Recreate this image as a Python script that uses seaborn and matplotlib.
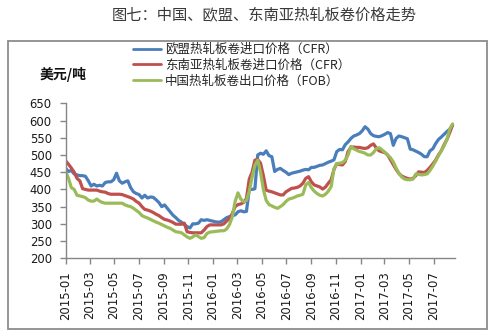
import numpy as np
import pandas as pd
import matplotlib
matplotlib.use("Agg")
import matplotlib.pyplot as plt
import matplotlib.dates as mdates
from matplotlib.patches import Rectangle
from matplotlib.lines import Line2D
import seaborn as sns

# Weekly price quotes (USD/ton), first week starting 2015-01-01
start_date = "2015-01-01"

eu_cfr = [
    461, 452, 455, 445, 442, 440, 440, 438, 425, 410,
    415, 410, 412, 410, 420, 422, 422, 428, 447, 425,
    418, 422, 425, 405, 393, 388, 385, 375, 383, 375,
    378, 377, 370, 362, 350, 355, 345, 335, 325, 318,
    310, 305, 298, 292, 288, 300, 300, 302, 312, 310,
    312, 310, 308, 306, 305, 306, 312, 318, 321, 324,
    326, 335, 338, 335, 336, 400, 400, 402, 500, 505,
    502, 512, 498, 495, 452, 458, 461, 455, 450, 443,
    447, 449, 451, 453, 456, 458, 457, 464, 464, 467,
    470, 471, 475, 479, 482, 486, 510, 516, 515, 530,
    538, 548, 555, 558, 562, 570, 582, 575, 562, 556,
    554, 553, 556, 560, 565, 562, 528, 548, 555, 553,
    550, 547, 517, 515, 511, 507, 502, 495, 495, 512,
    518, 533, 545, 552, 560, 568, 575, 587,
]

sea_cfr = [
    483, 473, 462, 450, 432, 425, 402, 400, 398, 398,
    398, 398, 395, 393, 392, 388, 386, 386, 386, 386,
    385, 382, 379, 376, 372, 365, 360, 350, 342, 340,
    337, 333, 328, 324, 318, 313, 311, 308, 304, 299,
    299, 299, 302, 277, 275, 274, 274, 274, 274, 282,
    292, 297, 297, 297, 297, 297, 300, 308, 316, 330,
    350, 356, 358, 362, 374, 430, 450, 485, 487, 476,
    440, 398, 395, 393, 390, 387, 384, 384, 393, 398,
    403, 404, 406, 410, 418, 432, 437, 422, 413, 410,
    407, 401, 407, 418, 428, 458, 475, 472, 471, 481,
    510, 522, 523, 522, 522, 520, 519, 521, 528, 532,
    520, 512, 509, 507, 500, 486, 472, 458, 446, 439,
    435, 432, 430, 432, 440, 451, 450, 449, 455, 464,
    474, 485, 500, 512, 530, 545, 565, 587,
]

cn_fob = [
    452, 432, 405, 400, 383, 381, 379, 376, 369, 366,
    366, 372, 366, 362, 360, 360, 360, 360, 360, 360,
    360, 355, 352, 350, 345, 339, 333, 324, 320, 317,
    313, 309, 305, 302, 298, 294, 290, 287, 282, 277,
    276, 274, 268, 262, 258, 262, 268, 263, 258, 260,
    272, 276, 277, 278, 279, 280, 280, 285, 298, 320,
    365, 390, 372, 364, 368, 395, 435, 470, 485, 450,
    400, 368, 356, 352, 348, 345, 350, 356, 365, 372,
    374, 377, 381, 383, 386, 413, 420, 405, 395, 388,
    383, 381, 386, 395, 408, 460, 475, 476, 478, 485,
    500, 525, 518, 514, 510, 508, 505, 500, 500, 507,
    518, 521, 515, 508, 500, 492, 480, 462, 447, 436,
    430, 428, 428, 430, 445, 444, 442, 443, 445, 455,
    468, 482, 498, 512, 527, 545, 575, 590,
]

series_names = [
    "欧盟热轧板卷进口价格（CFR）",
    "东南亚热轧板卷进口价格（CFR）",
    "中国热轧板卷出口价格（FOB）",
]
series_colors = ["#4A7EBB", "#C0504D", "#9BBB59"]
y_ticks = [200, 250, 300, 350, 400, 450, 500, 550, 600, 650]
title_text = "图七：中国、欧盟、东南亚热轧板卷价格走势"
unit_text = "美元/吨"

n = len(eu_cfr)
weeks = pd.date_range(start_date, periods=n, freq="7D")
df = pd.DataFrame({
    "日期": np.tile(weeks, 3),
    "价格": eu_cfr + sea_cfr + cn_fob,
    "系列": np.repeat(series_names, n),
})

sns.set_theme(style="white")
plt.rcParams["font.family"] = ["Noto Sans CJK SC", "DejaVu Sans"]

W, H = 496, 336
fig = plt.figure(figsize=(W / 100, H / 100), dpi=100)
fig.patch.set_facecolor("white")

ax = fig.add_axes([65.7 / W, 1 - 258.3 / H, (455 - 65.7) / W, (258.3 - 103.3) / H])
palette = dict(zip(series_names, series_colors))
sns.lineplot(data=df, x="日期", y="价格", hue="系列", palette=palette,
             linewidth=2.3, ax=ax, legend=False)

ax.set_ylim(200, 650)
ax.set_yticks(y_ticks)
ax.set_xlim(pd.Timestamp("2015-01-01"), pd.Timestamp("2015-01-01") + pd.Timedelta(days=965))
ax.xaxis.set_major_locator(mdates.MonthLocator(bymonth=[1, 3, 5, 7, 9, 11]))
ax.xaxis.set_major_formatter(mdates.DateFormatter("%Y-%m"))
ax.set_xlabel("")
ax.set_ylabel("")

for side in ["top", "right"]:
    ax.spines[side].set_visible(False)
for side in ["left", "bottom"]:
    ax.spines[side].set_color("#868686")
    ax.spines[side].set_linewidth(1.0)

ax.tick_params(axis="both", direction="out", length=4, width=1, color="#868686",
               labelsize=8.4, labelcolor="#1a1a1a", left=True, bottom=True)
ax.tick_params(axis="y", pad=6)
ax.tick_params(axis="x", pad=5)
for lbl in ax.get_xticklabels():
    lbl.set_rotation(90)
    lbl.set_fontfamily("DejaVu Sans")
for lbl in ax.get_yticklabels():
    lbl.set_fontfamily("DejaVu Sans")

# Legend
handles = [Line2D([], [], color=c, linewidth=2) for c in series_colors]
fig.legend(handles, series_names, loc="upper left",
           bbox_to_anchor=(133 / W, 1 - 43 / H), frameon=False,
           fontsize=9, handlelength=2.2, handletextpad=0.35,
           labelspacing=0.22, borderpad=0, borderaxespad=0)

# Title and unit label
fig.text(264 / W, 1 - 15 / H, title_text, ha="center", va="center",
         fontsize=11, color="#3a3a3a")
fig.text(40 / W, 1 - 75 / H, unit_text, ha="left", va="center",
         fontsize=10, fontweight="bold", color="#111111")

# Chart frame
fig.add_artist(Rectangle((8 / W, 7 / H), (487 - 8) / W, (329 - 41) / H,
                         transform=fig.transFigure, fill=False,
                         edgecolor="#8c8c8c", linewidth=1.3))

fig.savefig("out.png", dpi=100)
